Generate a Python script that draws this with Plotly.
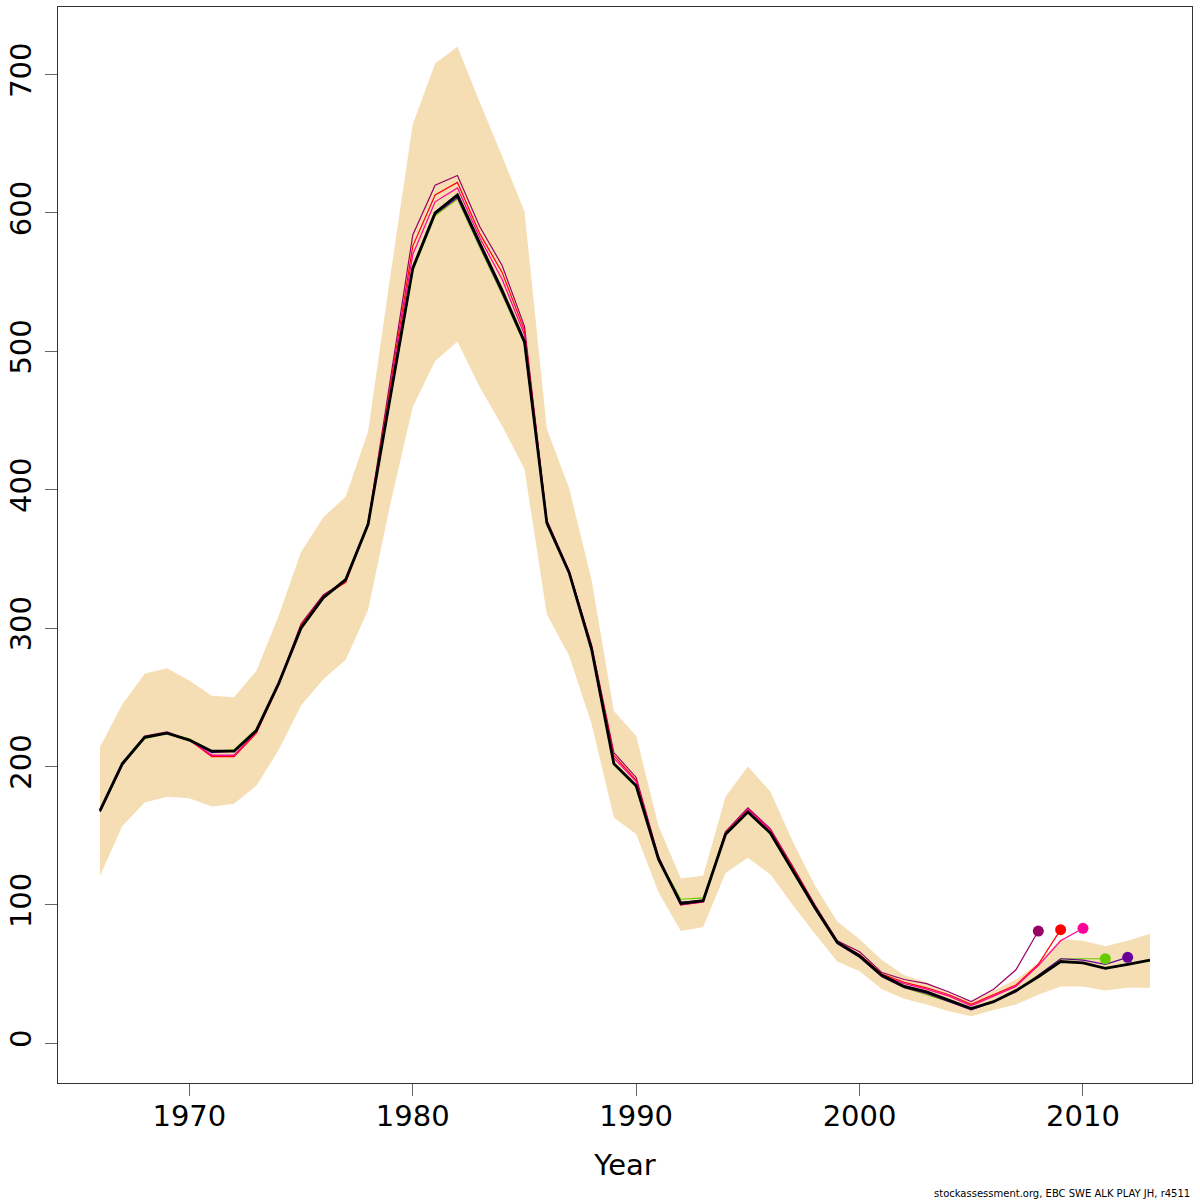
import plotly.graph_objects as go

# spawning stock biomass with confidence band and retrospective peels
years = [1966, 1967, 1968, 1969, 1970, 1971, 1972, 1973, 1974, 1975,
         1976, 1977, 1978, 1979, 1980, 1981, 1982, 1983, 1984, 1985,
         1986, 1987, 1988, 1989, 1990, 1991, 1992, 1993, 1994, 1995,
         1996, 1997, 1998, 1999, 2000, 2001, 2002, 2003, 2004, 2005,
         2006, 2007, 2008, 2009, 2010, 2011, 2012, 2013]

ssb = [168, 202, 221, 224, 219, 211, 211, 226, 260, 300,
       322, 335, 375, 468, 560, 600, 613, 578, 544, 507,
       376, 340, 285, 202, 186, 133, 101, 103, 151, 167,
       152, 125, 98, 73, 63, 49, 41, 37, 31, 25,
       30, 38, 48, 59, 58, 54, 57, 60]

ssb_hi = [214, 245, 267, 271, 262, 251, 250, 269, 309, 355,
          380, 395, 442, 555, 664, 708, 720, 680, 641, 601,
          444, 401, 335, 240, 222, 157, 119, 121, 178, 200,
          182, 146, 114, 88, 75, 60, 49, 44, 36, 30,
          38, 46, 58, 75, 74, 70, 74, 79]

ssb_lo = [121, 157, 174, 178, 177, 171, 173, 186, 212, 244,
          263, 277, 313, 390, 460, 493, 507, 474, 446, 415,
          310, 280, 231, 163, 151, 109, 81, 84, 123, 134,
          122, 100, 79, 59, 52, 39, 32, 28, 23, 19.5,
          24, 28, 35, 41, 41, 38, 40, 40]

# retrospective runs, each ending in its terminal year
retro_2008 = [168, 202, 222, 225, 219, 208, 208, 225, 260, 303,
              324, 334, 376, 480, 584, 620, 627, 590, 562, 518,
              378, 341, 288, 210, 192, 135, 100, 103, 153, 170,
              155, 128, 100, 74, 66, 51, 46, 43, 37, 30,
              39, 53, 81]
retro_2009 = [168, 201, 221, 224, 219, 207, 207, 224, 259, 302,
              323, 333, 375, 475, 576, 613, 622, 585, 557, 515,
              377, 341, 287, 208, 190, 134, 100, 102, 152, 169,
              154, 127, 99, 73, 64, 50, 44, 40, 35, 28,
              35, 42, 57, 82]
retro_2010 = [168, 201, 221, 224, 219, 208, 208, 225, 260, 301,
              323, 334, 375, 472, 570, 608, 618, 582, 552, 512,
              377, 341, 286, 206, 189, 134, 100, 102, 152, 169,
              154, 126, 98, 73, 63, 49, 43, 39, 34, 27,
              34, 41, 56, 74, 83]
retro_2011 = [167, 201, 220, 224, 220, 211, 212, 227, 260, 299,
              322, 336, 376, 467, 558, 598, 610, 575, 541, 505,
              375, 340, 284, 201, 185, 133, 104, 105, 152, 167,
              151, 124, 97, 72, 62, 48, 40, 35, 30, 25,
              30, 38, 49, 61, 61, 61]
retro_2012 = [167, 201, 221, 224, 219, 210, 211, 226, 260, 300,
              322, 335, 375, 468, 559, 599, 611, 576, 542, 506,
              376, 340, 285, 202, 186, 133, 102, 103, 151, 167,
              152, 125, 97, 72, 62, 48, 40, 36, 30, 24,
              30, 37, 49, 61, 60, 57, 62]

retros = [
    (retro_2008, "#990066"),
    (retro_2009, "#FF0000"),
    (retro_2010, "#FF0099"),
    (retro_2011, "#66CC00"),
    (retro_2012, "#660099"),
]

fig = go.Figure()

# confidence band as one polygon
fig.add_trace(go.Scatter(
    x=years + years[::-1], y=ssb_hi + ssb_lo[::-1],
    fill="toself", fillcolor="wheat", mode="none",
    hoverinfo="skip", showlegend=False))

for vals, col in retros:
    yrs = years[:len(vals)]
    fig.add_trace(go.Scatter(x=yrs, y=vals, mode="lines",
                             line=dict(color=col, width=1.2),
                             showlegend=False))

fig.add_trace(go.Scatter(x=years, y=ssb, mode="lines",
                         line=dict(color="black", width=2.8),
                         showlegend=False))

for vals, col in retros:
    yrs = years[:len(vals)]
    fig.add_trace(go.Scatter(x=[yrs[-1]], y=[vals[-1]], mode="markers",
                             marker=dict(color=col, size=11),
                             showlegend=False))

axis_common = dict(showgrid=False, zeroline=False, showline=True,
                   linecolor="#333", linewidth=1, mirror=True,
                   ticks="outside", ticklen=12, tickcolor="#666",
                   automargin=False,
                   tickfont=dict(size=29, color="black"))

fig.update_layout(
    width=1200, height=1200,
    margin=dict(l=58, r=8, t=7, b=117),
    paper_bgcolor="white", plot_bgcolor="white",
    font=dict(family="DejaVu Sans", color="black"),
    xaxis=dict(range=[1964.12, 2014.88],
               tickvals=[1970, 1980, 1990, 2000, 2010],
               ticklabelstandoff=-5,
               title=dict(text="Year", font=dict(size=29), standoff=22),
               **axis_common),
    yaxis=dict(range=[-28.8, 748.8],
               tickvals=[0, 100, 200, 300, 400, 500, 600, 700],
               tickangle=-90, ticklabelstandoff=2,
               **axis_common),
    annotations=[dict(
        text="stockassessment.org, EBC SWE ALK PLAY JH, r4511",
        xref="paper", yref="paper", x=1, y=-0.103,
        xanchor="right", yanchor="middle", showarrow=False,
        font=dict(size=10, color="black"))],
)

# drop the browser's default page margin so the figure sits at 0,0
fig.write_html("out.html", config={"displayModeBar": False},
               post_script="document.body.style.margin='0';")
